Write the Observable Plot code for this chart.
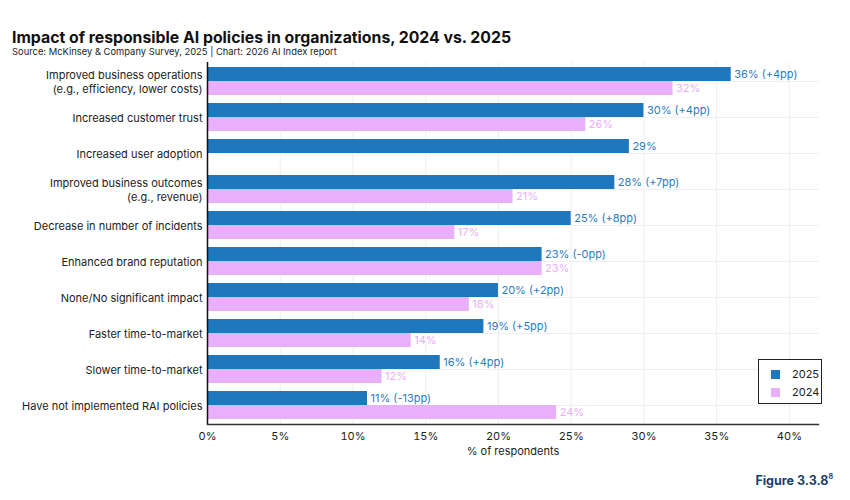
<!DOCTYPE html>
<html><head><meta charset="utf-8">
<script src="https://cdn.jsdelivr.net/npm/d3@7"></script>
<script src="https://cdn.jsdelivr.net/npm/@observablehq/plot@0.6"></script>
<style>
body{margin:0;background:#fff;font-family:Inter,"Noto Sans",sans-serif;}
#wrap{position:relative;width:850px;height:500px;overflow:hidden;}
#title{position:absolute;left:12px;top:28.5px;font-size:15.8px;line-height:1.1;font-weight:700;color:#111;white-space:nowrap;}
#sub{position:absolute;left:12px;top:46.6px;font-size:9.4px;line-height:1.1;color:#222;white-space:nowrap;}
#chart{position:absolute;left:0;top:58px;}
#legend{position:absolute;left:758px;top:359px;width:62px;height:43px;border:1.5px solid #222;background:#fff;font-size:11px;color:#222;}
#legend .row{position:absolute;left:12px;display:flex;align-items:center;}
#legend .sw{width:9px;height:9px;margin-right:12px;}
#fig{position:absolute;right:17px;top:472px;font-size:12.5px;font-weight:700;color:#1d3f6e;}
#fig sup{font-size:7px;vertical-align:6px;}
</style></head><body>
<div id="wrap">
  <div id="title">Impact of responsible AI policies in organizations, 2024 vs. 2025</div>
  <div id="sub">Source: McKinsey &amp; Company Survey, 2025 | Chart: 2026 AI Index report</div>
  <div id="chart"></div>
  <div id="legend"></div>
  <div id="fig">Figure 3.3.8<sup>8</sup></div>
</div>
<script>
const categories = [
  "Improved business operations\n(e.g., efficiency, lower costs)",
  "Increased customer trust",
  "Increased user adoption",
  "Improved business outcomes\n(e.g., revenue)",
  "Decrease in number of incidents",
  "Enhanced brand reputation",
  "None/No significant impact",
  "Faster time-to-market",
  "Slower time-to-market",
  "Have not implemented RAI policies"
];
const values2025 = [36, 30, 29, 28, 25, 23, 20, 19, 16, 11];
const values2024 = [32, 26, null, 21, 17, 23, 18, 14, 12, 24];
const labels2025 = ["36% (+4pp)", "30% (+4pp)", "29%", "28% (+7pp)", "25% (+8pp)", "23% (-0pp)", "20% (+2pp)", "19% (+5pp)", "16% (+4pp)", "11% (-13pp)"];
const labels2024 = ["32%", "26%", "", "21%", "17%", "23%", "18%", "14%", "12%", "24%"];
const xTicks = [0, 5, 10, 15, 20, 25, 30, 35, 40];
const years = ["2025", "2024"];
const colors = ["#1f77bd", "#e8b0fa"];
const textColors = ["#2b7cc0", "#e6b0f8"];

const d25 = categories.map((c, i) => ({c, v: values2025[i], label: labels2025[i]}));
const d24 = categories.map((c, i) => ({c, v: values2024[i], label: labels2024[i]})).filter(d => d.v != null);

const chart = Plot.plot({
  width: 850,
  height: 402,
  marginLeft: 207,
  marginRight: 32,
  marginTop: 4,
  marginBottom: 36,
  style: {fontFamily: "Inter, 'Noto Sans', sans-serif", fontSize: "11px", color: "#222", background: "#fff"},
  x: {domain: [0, 42]},
  y: {domain: categories, paddingInner: 0.23, paddingOuter: 0.088},
  marks: [
    Plot.gridX({ticks: xTicks, stroke: "#efefef", strokeOpacity: 1}),
    Plot.gridY({stroke: "#efefef", strokeOpacity: 1}),
    Plot.barX(d25, {x: "v", y: "c", fill: colors[0], insetBottom: 14}),
    Plot.barX(d24, {x: "v", y: "c", fill: colors[1], insetTop: 14}),
    Plot.text(d25, {x: "v", y: "c", text: "label", dx: 3, dy: -7, textAnchor: "start", fill: textColors[0], fontSize: 11}),
    Plot.text(d24, {x: "v", y: "c", text: "label", dx: 3, dy: 7, textAnchor: "start", fill: textColors[1], fontSize: 11}),
    Plot.ruleX([0], {stroke: "#111", strokeWidth: 1.5}),
    Plot.frame({anchor: "bottom", stroke: "#333", strokeWidth: 1.5}),
    Plot.axisY({tickSize: 0, tickPadding: 5, label: null, lineHeight: 1.3, fill: "#222"}),
    Plot.axisX({ticks: xTicks, tickFormat: d => d + "%", tickSize: 0, tickPadding: 8, label: "% of respondents", labelAnchor: "center", labelArrow: "none", labelOffset: 30, fill: "#222"})
  ]
});
document.getElementById("chart").appendChild(chart);

const legend = document.getElementById("legend");
years.forEach((y, i) => {
  const row = document.createElement("div");
  row.className = "row";
  row.style.top = (7 + i * 18) + "px";
  const sw = document.createElement("div");
  sw.className = "sw";
  sw.style.background = colors[i];
  const t = document.createElement("span");
  t.textContent = y;
  row.appendChild(sw);
  row.appendChild(t);
  legend.appendChild(row);
});
</script>
</body></html>
